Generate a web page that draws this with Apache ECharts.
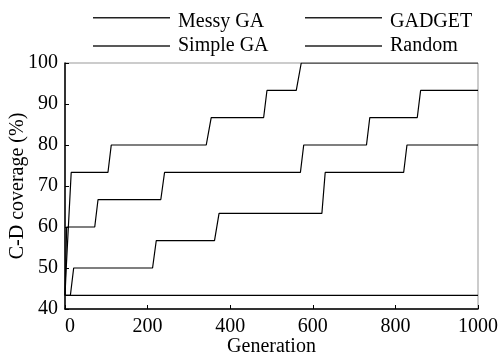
<!DOCTYPE html>
<html><head><meta charset="utf-8">
<script src="https://cdn.jsdelivr.net/npm/echarts@6/dist/echarts.min.js"></script>
<style>html,body{margin:0;padding:0;background:#fff}#c{width:500px;height:356px}</style>
</head><body><div id="c"></div>
<script>
var seriesNames = ['Messy GA', 'GADGET', 'Simple GA', 'Random'];
var messyGA = [[0,43.3],[3,50],[15,73.3],[104,73.3],[112,80],[342,80],[354,86.7],[481,86.7],[489,93.3],[560,93.3],[572,100],[1000,100]];
var gadget = [[0,43.3],[4,60],[72,60],[80,66.7],[232,66.7],[241,73.3],[570,73.3],[578,80],[730,80],[738,86.7],[853,86.7],[861,93.3],[1000,93.3]];
var simpleGA = [[0,43.3],[13,43.3],[21,50],[212,50],[221,56.7],[362,56.7],[373,63.3],[622,63.3],[630,73.3],[820,73.3],[828,80],[1000,80]];
var randomS = [[0,43.3],[1000,43.3]];
var xTicks = [0,200,400,600,800,1000];
var yTicks = [40,50,60,70,80,90,100];

var font = "'Liberation Serif','Times New Roman',serif";
var chart = echarts.init(document.getElementById('c'));
var data = [messyGA, gadget, simpleGA, randomS];
var legendPos = [[88,7],[300,7],[88,31],[300,31]];
var iconRaised = 'path://M0,0L100,0L100,1.6L0,1.6Z M0,9.9L0.05,9.9L0.05,10L0,10Z';
chart.setOption({
  animation: false,
  textStyle: {fontFamily: font},
  grid: {left: 65, right: 22, top: 63, bottom: 47, show: true, borderColor: '#999', borderWidth: 1,
    containLabel: false, outerBoundsMode: 'none'},
  legend: seriesNames.map(function(n, i){
    var raised = i < 2;
    return {data: [{name: n, icon: raised ? iconRaised : 'rect'}], left: legendPos[i][0], top: legendPos[i][1],
      itemWidth: 77, itemHeight: raised ? 10 : 1.4, symbolKeepAspect: false,
      itemGap: 0, itemStyle: {color: '#222'},
      textStyle: {fontFamily: font, fontSize: 20, color: '#000', padding: [0,0,0,3]}};
  }),
  xAxis: {type: 'value', min: 0, max: 1000, interval: 200,
    name: 'Generation', nameLocation: 'middle', nameGap: 28, nameMoveOverlap: false,
    nameTextStyle: {fontFamily: font, fontSize: 20, color: '#000'},
    axisLine: {show: true, lineStyle: {color: '#000', width: 1.5}},
    axisTick: {show: true, inside: true, length: 4, lineStyle: {color: '#000'}},
    axisLabel: {fontFamily: font, fontSize: 20, color: '#000', margin: 8, hideOverlap: false,
      formatter: function(v){
        if (xTicks.indexOf(v) < 0) return '';
        return v === 0 ? '{z|0}' : String(v);
      },
      rich: {z: {fontFamily: font, fontSize: 20, color: '#000', padding: [0,0,0,10]}}},
    splitLine: {show: false}},
  yAxis: {type: 'value', min: 40, max: 100, interval: 10,
    name: 'C-D coverage (%)', nameLocation: 'middle', nameGap: 37, nameMoveOverlap: false,
    nameTextStyle: {fontFamily: font, fontSize: 20, color: '#000'},
    axisLine: {show: true, lineStyle: {color: '#000', width: 1.5}},
    axisTick: {show: true, inside: true, length: 4, lineStyle: {color: '#000'}},
    axisLabel: {fontFamily: font, fontSize: 20, color: '#000', margin: 7,
      formatter: function(v){ return yTicks.indexOf(v) >= 0 ? String(v) : ''; }},
    splitLine: {show: false}},
  series: seriesNames.map(function(n, i){
    return {name: n, type: 'line', data: data[i], symbol: 'none', clip: true,
      lineStyle: {color: '#000', width: 1.2}, itemStyle: {color: '#000'}};
  })
});
</script></body></html>
